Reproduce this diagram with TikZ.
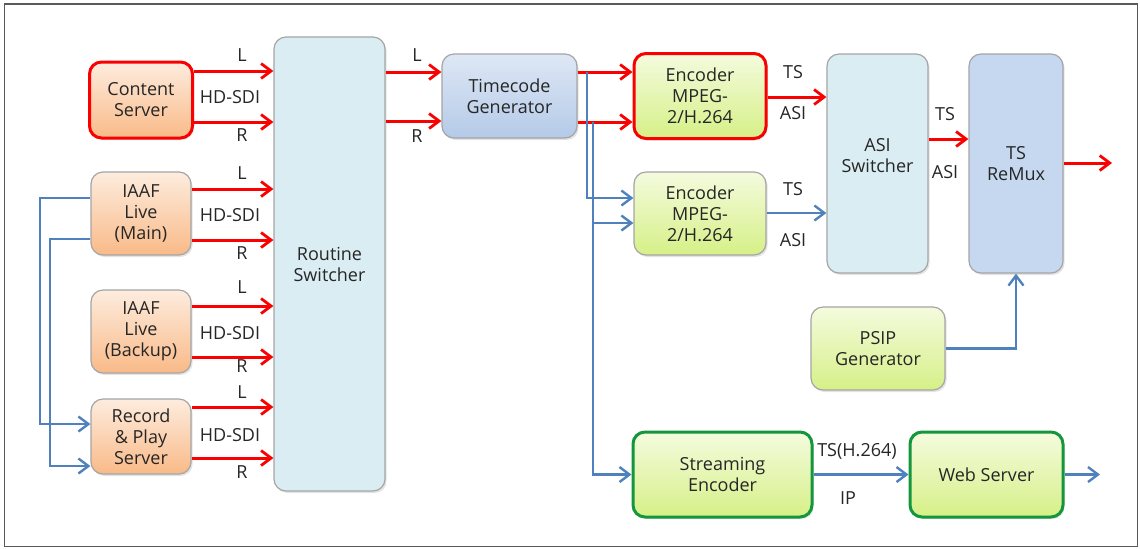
\documentclass[tikz,border=0pt]{standalone}
\usepackage{fontspec}
\setmainfont{Open Sans}
\usetikzlibrary{arrows.meta,shadows}
\definecolor{redl}{RGB}{250,0,0}
\definecolor{bluel}{RGB}{79,129,189}
\definecolor{orT}{RGB}{253,236,222}
\definecolor{orB}{RGB}{249,186,136}
\definecolor{grT}{RGB}{244,251,222}
\definecolor{grB}{RGB}{214,240,135}
\definecolor{tcT}{RGB}{222,231,245}
\definecolor{tcB}{RGB}{180,202,232}
\definecolor{ltblue}{RGB}{218,237,243}
\definecolor{rmxblue}{RGB}{197,216,240}
\definecolor{bordgray}{RGB}{165,165,165}
\definecolor{greenb}{RGB}{20,150,60}
\tikzset{
  box/.style={rounded corners=6pt, draw=bordgray, line width=0.6pt, align=center, inner sep=0pt,
    font=\fontsize{9}{10.5}\selectfont, text=black!85,
    drop shadow={opacity=0.22, shadow xshift=0.8pt, shadow yshift=-1pt}},
  orbox/.style={box, top color=orT, bottom color=orB},
  grbox/.style={box, top color=grT, bottom color=grB},
  tcbox/.style={box, top color=tcT, bottom color=tcB},
  lbbox/.style={box, fill=ltblue},
  rmbox/.style={box, fill=rmxblue},
  redframe/.style={draw=redl, line width=1.5pt},
  greenframe/.style={draw=greenb, line width=1.5pt},
  redarr/.style={draw=redl, line width=1.5pt, -{Straight Barb[length=5pt,width=7.5pt,line width=1.4pt]}},
  bluearr/.style={draw=bluel, line width=1.2pt, -{Straight Barb[length=5pt,width=7.5pt,line width=1.2pt]}},
  lbl/.style={font=\fontsize{9}{10.5}\selectfont, text=black!85, inner sep=0pt}
}
\begin{document}
\begin{tikzpicture}[x=0.5pt,y=-0.5pt]
\useasboundingbox (0,0) rectangle (1140,548);
\draw[black!65, line width=0.9pt] (4.5,4) rectangle (1137.5,546.5);

% left column
\node[orbox, redframe, minimum width=51.5pt, minimum height=38pt] (cs) at (141,100) {Content\\Server};
\node[orbox, minimum width=50pt, minimum height=41.5pt] (main) at (141,213.5) {IAAF\\Live\\(Main)};
\node[orbox, minimum width=50pt, minimum height=41.5pt] (backup) at (141,331.5) {IAAF\\Live\\(Backup)};
\node[orbox, minimum width=50pt, minimum height=37.5pt] (rec) at (141,436.5) {Record\\\&\ Play\\Server};

\node[lbbox, minimum width=55.5pt, minimum height=227pt] (rs) at (329.5,264) {Routine\\Switcher};
\node[tcbox, minimum width=67.5pt, minimum height=42pt] (tc) at (509.5,96) {Timecode\\Generator};

\node[grbox, redframe, minimum width=66pt, minimum height=42.5pt] (e1) at (700,96) {Encoder\\MPEG-\\2/H.264};
\node[grbox, minimum width=66pt, minimum height=41.5pt] (e2) at (700,213.5) {Encoder\\MPEG-\\2/H.264};

\node[lbbox, minimum width=50.5pt, minimum height=109.5pt] (asi) at (877.5,163.5) {ASI\\Switcher\\[-2.5pt]};
\node[rmbox, minimum width=47pt, minimum height=109.5pt] (rmx) at (1016,163.5) {TS\\ReMux};
\node[grbox, minimum width=67pt, minimum height=41.5pt] (psip) at (878,348.5) {PSIP\\Generator};

\node[grbox, greenframe, minimum width=89.5pt, minimum height=42.5pt] (se) at (722.5,474.5) {Streaming\\Encoder};
\node[grbox, greenframe, minimum width=76.5pt, minimum height=42.5pt] (ws) at (986.5,474.5) {Web Server};

% left HD-SDI links
\foreach \src/\yl/\yr in {cs/71/122, main/189/240, backup/306/357, rec/407/458}{
  \draw[redarr] (\src.east |- 0,\yl) -- (rs.west |- 0,\yl);
  \draw[redarr] (\src.east |- 0,\yr) -- (rs.west |- 0,\yr);
}
\node[lbl] (l1) at (242,55) {L};
\node[lbl] (h1) at (230,97) {HD-SDI};
\node[lbl] (r1) at (242,135) {R};
\node[lbl] (l2) at (242,173) {L};
\node[lbl] (h2) at (230,215) {HD-SDI};
\node[lbl] (r2) at (242,253) {R};
\node[lbl] (l3) at (242,287) {L};
\node[lbl] (h3) at (230,333) {HD-SDI};
\node[lbl] (r3) at (242,366) {R};
\node[lbl] (l4) at (242,392) {L};
\node[lbl] (h4) at (230,435) {HD-SDI};
\node[lbl] (r4) at (242,472) {R};

% loop-back blue lines
\draw[bluearr] (main.west |- 0,198) -- (40,198) -- (40,424) -- (rec.west |- 0,424);
\draw[bluearr] (main.west |- 0,239) -- (50,239) -- (50,466) -- (rec.west |- 0,466);

% routine switcher -> timecode
\draw[redarr] (rs.east |- 0,72) -- (tc.west |- 0,72);
\draw[redarr] (rs.east |- 0,121) -- (tc.west |- 0,121);
\node[lbl] (l5) at (417,55) {L};
\node[lbl] (r5) at (417,136) {R};

% timecode -> encoder 1
\draw[redarr] (tc.east |- 0,72) -- (e1.west |- 0,72);
\draw[redarr] (tc.east |- 0,122) -- (e1.west |- 0,122);

% blue branches
\coordinate (b1) at (587,72);
\coordinate (b2) at (593,122);
\draw[bluearr] (b1) |- (e2.west |- 0,198);
\draw[bluearr] (b2) |- (e2.west |- 0,223);
\draw[bluearr] (b2) |- (se.west);

% encoders -> ASI switcher
\draw[redarr] (e1.east |- 0,97) -- (asi.west |- 0,97);
\draw[bluearr] (e2.east |- 0,213) -- (asi.west |- 0,213);
\node[lbl] (t1) at (793,72) {TS};
\node[lbl] (a1) at (793,113) {ASI};
\node[lbl] (t2) at (793,189) {TS};
\node[lbl] (a2) at (793,240) {ASI};

% ASI -> ReMux
\draw[redarr] (asi.east |- 0,139) -- (rmx.west |- 0,139);
\node[lbl] (t3) at (945,114) {TS};
\node[lbl] (a3) at (945,172) {ASI};

\coordinate (out1) at (1112,163);
\draw[redarr] (rmx.east |- out1) -- (out1);

% PSIP -> ReMux
\draw[bluearr] (psip.east) -| (rmx.south);

% streaming
\draw[bluearr] (se.east) -- (ws.west);
\node[lbl] (t4) at (857,451) {TS(H.264)};
\node[lbl] (ip) at (848,498) {IP};
\coordinate (out2) at (1100,474.5);
\draw[bluearr] (ws.east) -- (out2);
\end{tikzpicture}
\end{document}
